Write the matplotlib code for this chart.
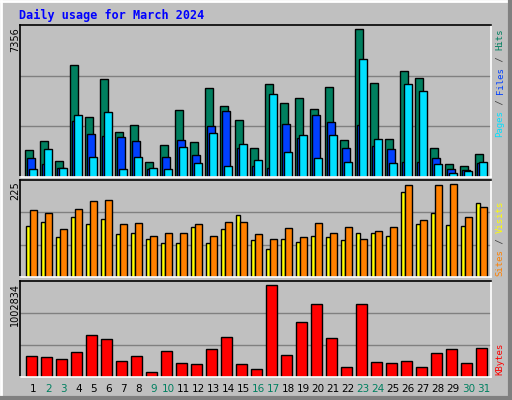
import numpy as np
import matplotlib
matplotlib.use("Agg")
import matplotlib.pyplot as plt
from matplotlib.patches import Rectangle

days = list(range(1, 32))
weekend = [2, 3, 9, 10, 16, 17, 23, 24, 30, 31]

hits = [1283, 1721, 796, 5424, 2891, 4742, 2160, 2501, 747, 1527, 3232, 1673, 4304, 3427, 2745, 1380,
        4498, 3573, 3816, 3280, 4352, 1770, 7178, 4547, 1819, 5132, 4791, 1380, 650, 552, 1137]
files = [942, 650, 455, 2696, 2062, 1965, 1916, 1721, 406, 991, 1770, 1088, 2452, 3183, 1380, 552,
         455, 2550, 1868, 2988, 2647, 1380, 2501, 1478, 1332, 747, 747, 942, 406, 357, 698]
pages = [406, 1332, 455, 2988, 991, 3134, 406, 991, 455, 406, 1429, 698, 2111, 552, 1575, 844,
         4011, 1234, 2014, 942, 2014, 747, 5716, 1819, 698, 4498, 4157, 650, 211, 309, 747]
sites = [118, 127, 92, 139, 122, 134, 99, 101, 87, 78, 80, 115, 78, 111, 143, 85,
         66, 87, 82, 96, 92, 85, 103, 101, 96, 198, 122, 148, 120, 118, 172]
visits = [155, 148, 111, 158, 176, 179, 122, 125, 94, 101, 101, 122, 96, 127, 127, 99,
          87, 113, 92, 125, 101, 115, 89, 106, 115, 214, 132, 214, 216, 139, 162]
kbytes = [222000, 212000, 191000, 265000, 434000, 392000, 169000, 222000, 53000, 275000, 148000,
          138000, 297000, 413000, 138000, 85000, 964000, 233000, 572000, 763000, 403000, 106000,
          763000, 159000, 148000, 169000, 106000, 254000, 297000, 148000, 307000]
max_hits, max_visits, max_kb = 7356, 225, 1002834

BG = '#C0C0C0'
W, H = 512, 400
fig = plt.figure(figsize=(W / 100, H / 100), dpi=100, facecolor=BG)

# bevelled outer border
ov = fig.add_axes([0, 0, 1, 1])
ov.set_xlim(0, W); ov.set_ylim(H, 0); ov.axis('off')
ov.plot([1, W - 2], [1, 1], color='white', lw=2)
ov.plot([1, 1], [1, H - 2], color='white', lw=2)
ov.plot([W - 2, W - 2], [1, H - 2], color='#808080', lw=3)
ov.plot([1, W - 2], [H - 2, H - 2], color='#808080', lw=3)
ov.text(19, 15, 'Daily usage for March 2024', color='#0000FF', fontsize=8.5,
        family='DejaVu Sans Mono', weight='bold', va='center', ha='left')

x0, x1 = 20, 491
x = np.arange(31)


def panel(top, bottom):
    ax = fig.add_axes([x0 / W, 1 - bottom / H, (x1 - x0) / W, (bottom - top) / H])
    ax.set_facecolor(BG)
    ax.set_xlim(-1 / 3, (x1 - 25) / 15)
    ax.set_xticks([]); ax.set_yticks([])
    for s in ['top', 'left']:
        ax.spines[s].set_color('black')
    for s in ['bottom', 'right']:
        ax.spines[s].set_color('white')
    for sp in ax.spines.values():
        sp.set_linewidth(1.2)
    return ax


def right_label(ybot, parts, size=6.5):
    cw = size * 100 / 72 * 0.6
    pos = 0
    for txt, col in parts:
        ov.text(500, ybot - pos * cw, txt, color=col, fontsize=size, family='DejaVu Sans Mono',
                rotation=90, ha='center', va='bottom')
        pos += len(txt)


kw = dict(align='edge', edgecolor='black', linewidth=1)

# top: hits / files / pages
ax1 = panel(25, 177)
ax1.set_ylim(0, max_hits)
for g in [max_hits / 3, 2 * max_hits / 3]:
    ax1.axhline(g, color='#808080', lw=1, zorder=0)
ax1.bar(x, hits, 0.51, color='#007F5F', **kw)
ax1.bar(x + 0.11, files, 0.53, color='#0040FF', **kw)
ax1.bar(x + 0.29, pages, 0.49, color='#00E0FF', **kw)
ov.text(15, 27, str(max_hits), rotation=90, fontsize=7, ha='center', va='top')
right_label(137, [('Pages', '#00E0FF'), (' / ', '#404040'), ('Files', '#0040FF'),
                  (' / ', '#404040'), ('Hits', '#007F5F')])

# middle: sites / visits
ax2 = panel(180, 277)
ax2.set_ylim(0, max_visits)
for g in [max_visits / 3, 2 * max_visits / 3]:
    ax2.axhline(g, color='#808080', lw=1, zorder=0)
ax2.bar(x + 0.04, sites, 0.27, color='#FFFF00', **kw)
ax2.bar(x + 0.31, visits, 0.47, color='#FF8000', **kw)
ov.text(15, 181, str(max_visits), rotation=90, fontsize=7, ha='center', va='top')
right_label(276, [('Sites', '#FF8000'), (' / ', '#404040'), ('Visits', '#FFFF00')])

# bottom: kbytes
ax3 = panel(281, 377)
ax3.set_ylim(0, max_kb)
for g in [max_kb / 3, 2 * max_kb / 3]:
    ax3.axhline(g, color='#808080', lw=1, zorder=0)
ax3.bar(x + 0.09, kbytes, 0.69, color='#FF0000', **kw)
ov.text(15, 283, str(max_kb), rotation=90, fontsize=7, ha='center', va='top')
right_label(375, [('KBytes', '#FF0000')])

for i, d in enumerate(days):
    ov.text(25 + 15 * i + 8.3, 389, str(d), fontsize=7.5, ha='center', va='center',
            color='#008060' if d in weekend else 'black')

fig.savefig('out.png', dpi=100, facecolor=BG)
